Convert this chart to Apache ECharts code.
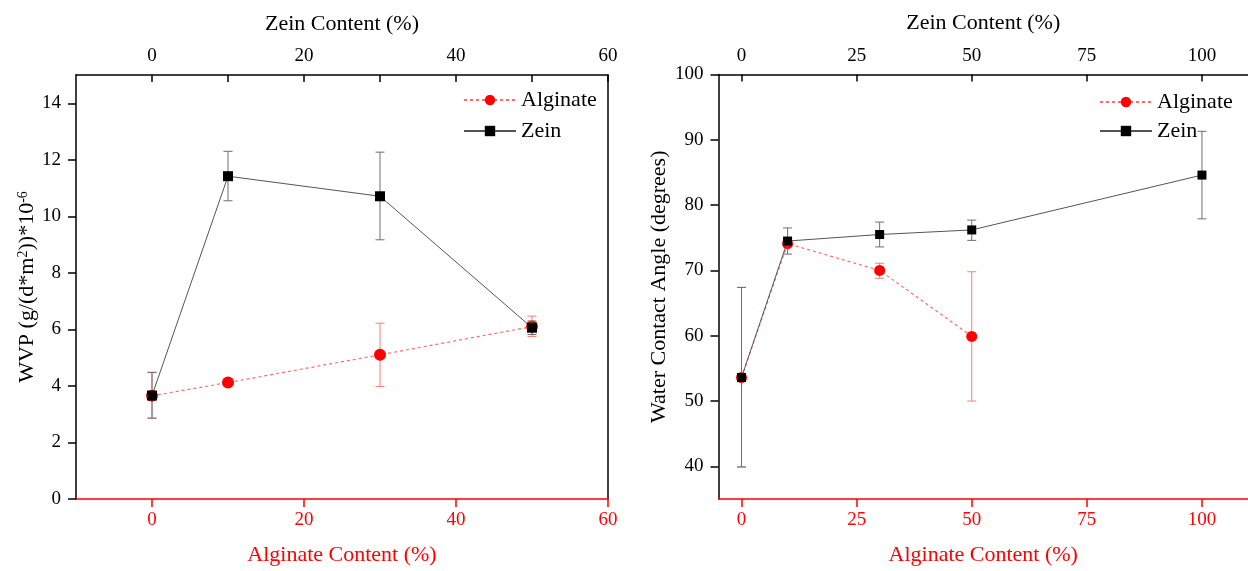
<!DOCTYPE html>
<html><head><meta charset="utf-8">
<script src="https://cdn.jsdelivr.net/npm/echarts@6/dist/echarts.min.js"></script>
<style>html,body{margin:0;padding:0;background:#fff}#c{width:1248px;height:571px}</style>
</head><body><div id="c"></div>
<script>
// ---- Left panel: WVP ----
const leftX = [0, 10, 30, 50];
const leftAlgY = [3.65, 4.12, 5.1, 6.1];
const leftAlgLow = [2.86, 4.07, 3.98, 5.75];
const leftAlgHigh = [4.48, 4.17, 6.22, 6.47];
const leftZeinY = [3.66, 11.42, 10.71, 6.06];
const leftZeinLow = [2.86, 10.55, 9.17, 5.82];
const leftZeinHigh = [4.48, 12.3, 12.27, 6.3];
const leftXTicksTop = [0, 10, 20, 30, 40, 50, 60];
const leftXLabels = [0, 20, 40, 60];
const leftYLabels = [0, 2, 4, 6, 8, 10, 12, 14];

// ---- Right panel: Water contact angle ----
const rightAlgX = [0, 10, 30, 50];
const rightAlgY = [53.6, 74.1, 70.0, 59.9];
const rightAlgLow = [39.9, 73.7, 68.8, 50.0];
const rightAlgHigh = [67.4, 74.6, 71.1, 69.8];
const rightZeinX = [0, 10, 30, 50, 100];
const rightZeinY = [53.6, 74.5, 75.5, 76.2, 84.6];
const rightZeinLow = [39.9, 72.5, 73.6, 74.6, 77.9];
const rightZeinHigh = [67.4, 76.5, 77.4, 77.7, 91.3];
const rightXLabels = [0, 25, 50, 75, 100];
const rightYLabels = [40, 50, 60, 70, 80, 90, 100];

const FONT = '"Liberation Serif", "Times New Roman", serif';
const RED = '#ff0000';

function pts(xs, ys){ return xs.map((x,i)=>[x, ys[i]]); }
function errs(xs, lo, hi){ return xs.map((x,i)=>[x, lo[i], hi[i]]); }

function errRender(color){
  return function(params, api){
    const x = api.value(0), lo = api.value(1), hi = api.value(2);
    const a = api.coord([x, hi]), b = api.coord([x, lo]);
    const w = 4.5;
    const st = {stroke: color, lineWidth: 1};
    return {type:'group', children:[
      {type:'line', shape:{x1:a[0], y1:a[1], x2:b[0], y2:b[1]}, style:st},
      {type:'line', shape:{x1:a[0]-w, y1:a[1], x2:a[0]+w, y2:a[1]}, style:st},
      {type:'line', shape:{x1:b[0]-w, y1:b[1], x2:b[0]+w, y2:b[1]}, style:st}
    ]};
  };
}

function bottomAxis(min, max, labels, gridIdx){
  return {type:'value', gridIndex:gridIdx, position:'bottom', min:min, max:max,
    name:'Alginate Content (%)', nameLocation:'middle', nameGap:45,
    nameTextStyle:{color:RED, fontFamily:FONT, fontSize:22},
    axisLine:{show:true, onZero:false, lineStyle:{color:RED, width:1.5}},
    axisTick:{show:true, inside:false, length:8, customValues:labels, lineStyle:{color:RED, width:1.5}},
    axisLabel:{color:RED, fontFamily:FONT, fontSize:19, margin:12, customValues:labels},
    splitLine:{show:false}};
}
function topAxis(min, max, ticks, labels, gridIdx){
  return {type:'value', gridIndex:gridIdx, position:'top', min:min, max:max,
    name:'Zein Content (%)', nameLocation:'middle', nameGap:40,
    nameTextStyle:{color:'#000', fontFamily:FONT, fontSize:22},
    axisLine:{show:true, onZero:false, lineStyle:{color:'#000', width:1.5}},
    axisTick:{show:true, inside:true, length:7, customValues:ticks, lineStyle:{color:'#000', width:1.5}},
    axisLabel:{color:'#000', fontFamily:FONT, fontSize:19, margin:9, customValues:labels},
    splitLine:{show:false}};
}

const chart = echarts.init(document.getElementById('c'), null, {renderer:'canvas'});
chart.setOption({
  animation:false,
  backgroundColor:'#fff',
  grid:[
    {left:76, top:75, width:532, height:429},
    {left:718.5, top:74.5, width:535, height:428.5}
  ],
  xAxis:[
    bottomAxis(-10, 60, leftXLabels, 0),
    topAxis(-10, 60, leftXTicksTop, leftXLabels, 0),
    bottomAxis(-5, 110, rightXLabels, 1),
    topAxis(-5, 110, rightXLabels, rightXLabels, 1)
  ],
  yAxis:[
    {type:'value', gridIndex:0, min:0, max:15, position:'left',
      name:'WVP (g/(d*m{sup|2}))*10{sup|-6}', nameLocation:'middle', nameGap:36,
      nameTextStyle:{color:'#000', fontFamily:FONT, fontSize:22,
        rich:{sup:{fontFamily:FONT, fontSize:14, verticalAlign:'top', color:'#000'}}},
      axisLine:{show:true, onZero:false, lineStyle:{color:'#000', width:1.5}},
      axisTick:{show:true, inside:false, length:8, customValues:leftYLabels, lineStyle:{color:'#000', width:1.5}},
      axisLabel:{color:'#000', fontFamily:FONT, fontSize:19, margin:15, customValues:leftYLabels},
      splitLine:{show:false}},
    {type:'value', gridIndex:0, min:0, max:15, position:'right',
      axisLine:{show:true, onZero:false, lineStyle:{color:'#000', width:1.5}},
      axisTick:{show:false}, axisLabel:{show:false}, splitLine:{show:false}},
    {type:'value', gridIndex:1, min:35, max:100, position:'left',
      name:'Water Contact Angle (degrees)', nameLocation:'middle', nameGap:48,
      nameTextStyle:{color:'#000', fontFamily:FONT, fontSize:22},
      axisLine:{show:true, onZero:false, lineStyle:{color:'#000', width:1.5}},
      axisTick:{show:true, inside:false, length:8, customValues:rightYLabels, lineStyle:{color:'#000', width:1.5}},
      axisLabel:{color:'#000', fontFamily:FONT, fontSize:19, margin:15, customValues:rightYLabels},
      splitLine:{show:false}}
  ],
  legend:[
    {left:458, top:84, orient:'vertical', itemGap:9, itemWidth:52, itemHeight:13,
      data:['Alginate','Zein'], textStyle:{fontFamily:FONT, fontSize:22, color:'#000'}},
    {left:1094, top:86, orient:'vertical', itemGap:7, itemWidth:52, itemHeight:13,
      data:['Alginate','Zein'], textStyle:{fontFamily:FONT, fontSize:22, color:'#000'}}
  ],
  series:[
    // left panel
    {type:'custom', name:'AlgErrL', xAxisIndex:0, yAxisIndex:0, renderItem:errRender('#ff7b7b'),
      data:errs(leftX, leftAlgLow, leftAlgHigh), encode:{x:0, y:[1,2]}, z:2, silent:true},
    {type:'line', name:'Alginate', xAxisIndex:0, yAxisIndex:0, data:pts(leftX, leftAlgY),
      symbol:'circle', symbolSize:12, itemStyle:{color:RED},
      lineStyle:{color:'#ff6a6a', width:1.2, type:[3,3]}, z:3},
    {type:'custom', name:'ZeinErrL', xAxisIndex:1, yAxisIndex:0, renderItem:errRender('#6e6e6e'),
      data:errs(leftX, leftZeinLow, leftZeinHigh), encode:{x:0, y:[1,2]}, z:4, silent:true},
    {type:'line', name:'Zein', xAxisIndex:1, yAxisIndex:0, data:pts(leftX, leftZeinY),
      symbol:'rect', symbolSize:10, itemStyle:{color:'#000'},
      lineStyle:{color:'#555', width:1}, z:5},
    // right panel
    {type:'custom', name:'AlgErrR', xAxisIndex:2, yAxisIndex:2, renderItem:errRender('#ff7b7b'),
      data:errs(rightAlgX, rightAlgLow, rightAlgHigh), encode:{x:0, y:[1,2]}, z:2, silent:true},
    {type:'line', name:'Alginate', xAxisIndex:2, yAxisIndex:2, data:pts(rightAlgX, rightAlgY),
      symbol:'circle', symbolSize:11, itemStyle:{color:RED},
      lineStyle:{color:'#ff6a6a', width:1.2, type:[3,3]}, z:3},
    {type:'custom', name:'ZeinErrR', xAxisIndex:3, yAxisIndex:2, renderItem:errRender('#6e6e6e'),
      data:errs(rightZeinX, rightZeinLow, rightZeinHigh), encode:{x:0, y:[1,2]}, z:4, silent:true},
    {type:'line', name:'Zein', xAxisIndex:3, yAxisIndex:2, data:pts(rightZeinX, rightZeinY),
      symbol:'rect', symbolSize:9, itemStyle:{color:'#000'},
      lineStyle:{color:'#555', width:1}, z:5}
  ]
});
</script></body></html>
